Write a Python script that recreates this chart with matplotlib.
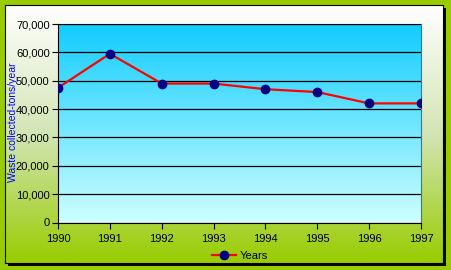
import numpy as np
import matplotlib
matplotlib.use("Agg")
import matplotlib.pyplot as plt
from matplotlib.colors import LinearSegmentedColormap
from matplotlib.patches import Rectangle
from matplotlib.lines import Line2D

years = ["1990", "1991", "1992", "1993", "1994", "1995", "1996", "1997"]
waste = [47500, 59500, 49000, 49000, 47000, 46000, 42000, 42000]
y_ticks = [0, 10000, 20000, 30000, 40000, 50000, 60000, 70000]

plt.rcParams['font.family'] = ['Liberation Sans', 'DejaVu Sans']

W, H = 451, 270
fig = plt.figure(figsize=(W / 100, H / 100), dpi=100)
fig.patch.set_facecolor('#99CC00')

def fx(px):
    return px / W

def fy(py):
    return 1 - py / H

# shadow + panel
fig.patches.append(Rectangle((fx(8), fy(266)), fx(438), 258 / H, transform=fig.transFigure,
                             facecolor='black', edgecolor='none', zorder=0))
panel = fig.add_axes([fx(5), fy(263), fx(438), 258 / H], zorder=1)
grad = np.linspace(0, 1, 256).reshape(-1, 1)
panel_cmap = LinearSegmentedColormap.from_list('p', ['#FFFFFF', '#D2E5B4', '#99CC00'])
panel.imshow(grad, aspect='auto', cmap=panel_cmap, extent=[0, 1, 1, 0])
panel.set_xticks([])
panel.set_yticks([])
for s in panel.spines.values():
    s.set_color('black')
    s.set_linewidth(0.8)

# plot area
ax = fig.add_axes([fx(58), fy(222.5), fx(363), 198.5 / H], zorder=2)
area_cmap = LinearSegmentedColormap.from_list('a', ['#11CCFF', '#CCFFFF'])
ax.imshow(grad, aspect='auto', cmap=area_cmap, extent=[0, 1, 0, 1],
          transform=ax.transAxes, zorder=0)

x = np.arange(len(years))
ax.plot(x, waste, color='#FF0000', lw=1.6, marker='o', ms=6,
        mfc='#000080', mec='#000080', zorder=3)

ax.set_xlim(0, len(years) - 1)
ax.set_ylim(0, 70000)
ax.set_xticks(x)
ax.set_xticklabels(years)
ax.set_yticks(y_ticks)
ax.set_yticklabels([f"{v:,}" for v in y_ticks])
ax.tick_params(axis='both', labelsize=8, colors='black', length=4, width=0.8)
ax.tick_params(axis='x', pad=4)
ax.tick_params(axis='y', pad=2)
ax.grid(axis='y', color='black', lw=0.9)
ax.set_axisbelow(False)
for g in ax.get_ygridlines():
    g.set_zorder(1)
ax.spines['left'].set_color('black')
ax.spines['bottom'].set_color('black')
ax.spines['top'].set_color('#3366FF')
ax.spines['right'].set_color('#3366FF')

fig.text(fx(13), fy(122), "Waste collected-tons/year", rotation=90, color='#0000FF',
         fontsize=7.5, ha='center', va='center',
         family=['Liberation Sans Narrow', 'Liberation Sans', 'DejaVu Sans'])

handle = Line2D([], [], color='#FF0000', lw=1.6, marker='o', ms=6,
                mfc='#000080', mec='#000080')
fig.legend([handle], ["Years"], loc='center', bbox_to_anchor=(fx(240), fy(256)),
           frameon=False, fontsize=8, handlelength=2.2, handletextpad=0.3,
           borderpad=0, borderaxespad=0)

fig.savefig("out.png", dpi=100, facecolor=fig.get_facecolor())
